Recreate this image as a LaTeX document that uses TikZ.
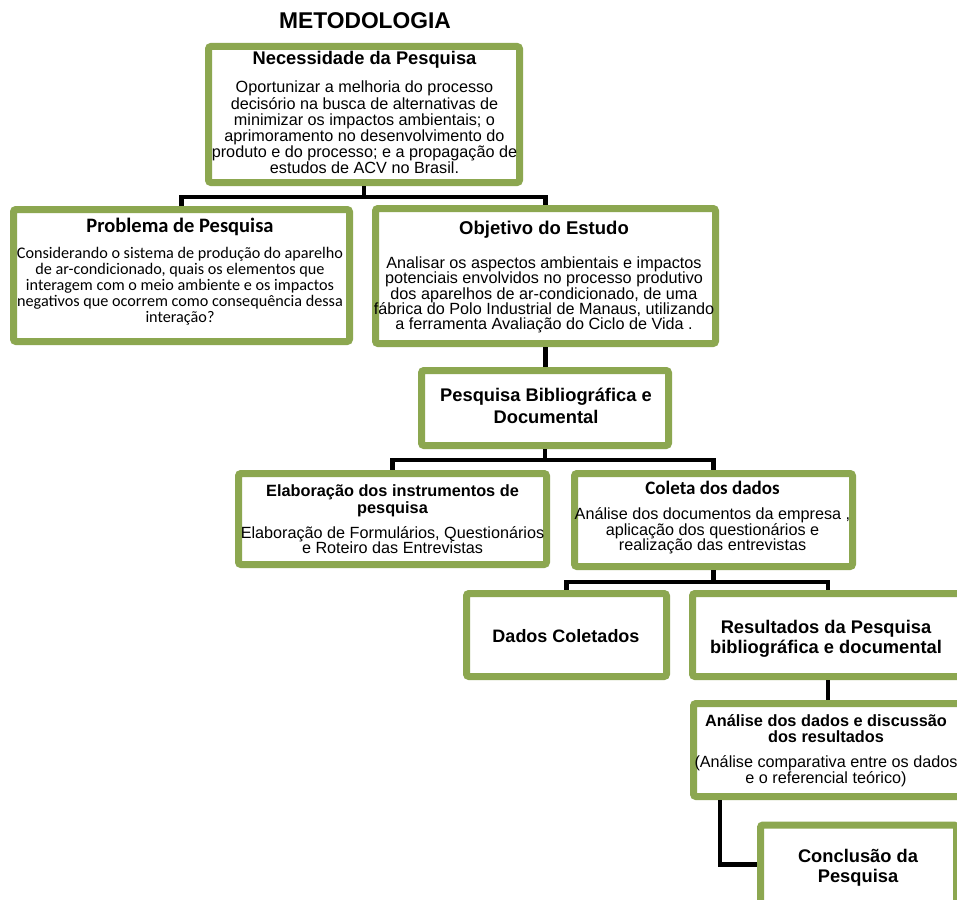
\documentclass[tikz,border=0pt]{standalone}
\usepackage{fontspec}
\setmainfont{Liberation Sans}
\newfontfamily\carlito{Carlito}
\usetikzlibrary{calc}
\pgfdeclarelayer{shadow}
\pgfsetlayers{shadow,main}
\definecolor{boxgreen}{RGB}{140,167,80}
\lineskiplimit=-100pt
\lineskip=0pt
\newcommand\fs[2]{\fontsize{#1}{#2}\selectfont}

\tikzset{
  box/.style={draw=boxgreen, line width=7pt, fill=white, rounded corners=2.5pt, inner sep=0pt},
  txt/.style={align=center, inner sep=0pt, text=black},
  conn/.style={draw=black, line width=4.4pt},
  shade/.style={fill=black, fill opacity=0.08, rounded corners=3pt},
}

\begin{document}
\begin{tikzpicture}[x=1pt,y=-1pt]
\useasboundingbox (0,0) rectangle (957,899);
\clip (0,0) rectangle (957,899);
\fill[white] (0,0) rectangle (957,899);

% title
\node[font=\bfseries\fs{22.8}{24}, anchor=base, inner sep=0pt] (title) at (365,28.3) {METODOLOGIA};

% frames
\node[box, minimum width=311pt, minimum height=136pt] (nec)   at (364,114.5) {};
\node[box, minimum width=336pt, minimum height=132pt] (prob)  at (181.5,275.5) {};
\node[box, minimum width=340pt, minimum height=135pt] (obj)   at (545.5,276) {};
\node[box, minimum width=247pt, minimum height=75pt]  (pesq)  at (545,408) {};
\node[box, minimum width=308pt, minimum height=91pt]  (elab)  at (392.5,519) {};
\node[box, minimum width=278pt, minimum height=93pt]  (col)   at (713.5,520) {};
\node[box, minimum width=200pt, minimum height=83pt]  (dados) at (566.5,635) {};
\node[box, minimum width=271pt, minimum height=83pt]  (res)   at (828,635) {};
\node[box, minimum width=269pt, minimum height=93pt]  (anal)  at (828,750) {};
\node[box, minimum width=196pt, minimum height=79pt]  (concl) at (858.5,864.5) {};

% soft shadows under the frames
\begin{pgfonlayer}{shadow}
\foreach \b in {nec,prob,obj,pesq,elab,col,dados,res,anal,concl}{
  \foreach \g in {0,1,2}{
    \fill[shade] ($(\b.north west)+(3-\g,4-\g)$) rectangle ($(\b.south east)+(2+\g,3+\g)$);
  }
}
\end{pgfonlayer}

% texts
\node[txt, font=\fs{16.2}{16.2}] (nec-t) at (364.5,112.8) {%
{\bfseries\fs{18.3}{18.3}Necessidade da Pesquisa}\\[11.8pt]
Oportunizar a melhoria do processo\\
decisório na busca de alternativas de\\
minimizar os impactos ambientais; o\\
aprimoramento no desenvolvimento do\\
produto e do processo; e a propagação de\\
estudos de ACV no Brasil.};

\node[txt, font=\carlito\fs{16.2}{16}] (prob-t) at (180,271.5) {%
{\bfseries\fs{20.5}{20.5}Problema de Pesquisa}\\[10.6pt]
Considerando o sistema de produção do aparelho\\
de ar-condicionado, quais os elementos que\\
interagem com o meio ambiente e os impactos\\
negativos que ocorrem como consequência dessa\\
interação?};

\node[txt, font=\fs{16.2}{15.4}] (obj-t) at (544,277.1) {%
{\bfseries\fs{18.5}{18.5}Objetivo do Estudo}\\[18.6pt]
Analisar os aspectos ambientais e impactos\\
potenciais envolvidos no processo produtivo\\
dos aparelhos de ar-condicionado, de uma\\
fábrica do Polo Industrial de Manaus, utilizando\\
a ferramenta Avaliação do Ciclo de Vida .};

\node[txt, font=\bfseries\fs{18.3}{21.6}] (pesq-t) at (546,405.7) {%
Pesquisa Bibliográfica e\\ Documental};

\node[txt, font=\fs{16.2}{14.7}] (elab-t) at (392.5,519) {%
{\bfseries\fs{16.3}{16}Elaboração dos instrumentos de}\\[2pt]
{\bfseries\fs{16.3}{16}pesquisa}\\[10.3pt]
Elaboração de Formulários, Questionários\\
e Roteiro das Entrevistas};

\node[txt, font=\fs{16.2}{15.3}] (col-t) at (712.5,517.5) {%
{\carlito\bfseries\fs{19}{19}Coleta dos dados}\\[10pt]
Análise dos documentos da empresa ,\\
aplicação dos questionários e\\
realização das entrevistas};

\node[txt, font=\bfseries\fs{18}{18}, anchor=base] (dados-t) at (566,642.2) {Dados Coletados};

\node[txt, font=\bfseries\fs{18.3}{20}] (res-t) at (826,638.5) {%
Resultados da Pesquisa\\ bibliográfica e documental};

\node[txt, font=\fs{16.2}{16}] (anal-t) at (826,750.7) {%
{\bfseries\fs{16.3}{16}Análise dos dados e discussão}\\[0.7pt]
{\bfseries\fs{16.3}{16}dos resultados}\\[9pt]
(Análise comparativa entre os dados\\
e o referencial teórico)};

\node[txt, font=\bfseries\fs{18.3}{20}] (concl-t) at (858,867.5) {%
Conclusão da\\ Pesquisa};

% connectors
\draw[conn] (nec.south) -- ++(0,11) -| (prob.north);
\draw[conn] (nec.south) -- ++(0,11) -| (obj.north);
\draw[conn] (obj.south) -- (obj.south |- pesq.north);
\draw[conn] (pesq.south) -- ++(0,11) -| (elab.north);
\draw[conn] (pesq.south) -- ++(0,11) -| (col.north);
\draw[conn] (col.south) -- ++(0,12) -| (dados.north);
\draw[conn] (col.south) -- ++(0,12) -| (res.north);
\draw[conn] (res.south) -- (anal.north);
\draw[conn] ([xshift=30pt]anal.south west) |- (concl.west);
\end{tikzpicture}
\end{document}
